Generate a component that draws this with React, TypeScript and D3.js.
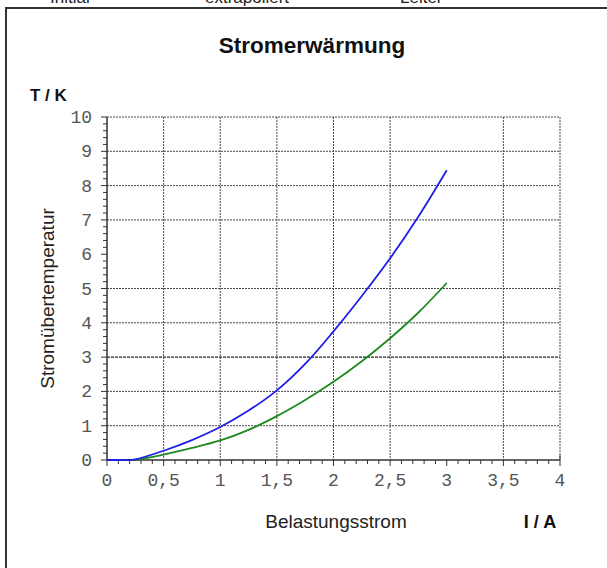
import React from "react";
import * as d3 from "d3";

const currents = [0, 0.1, 0.2, 0.25, 0.5, 0.75, 1.0, 1.25, 1.5, 1.75, 2.0, 2.25, 2.5, 2.75, 3.0];
const blueTemps = [0, 0, 0, 0.02, 0.27, 0.58, 0.96, 1.44, 2.03, 2.8, 3.75, 4.78, 5.88, 7.1, 8.45];
const greenTemps = [0, 0, 0, 0.01, 0.16, 0.35, 0.57, 0.88, 1.28, 1.75, 2.28, 2.88, 3.55, 4.3, 5.16];

const xTicks = [0, 0.5, 1, 1.5, 2, 2.5, 3, 3.5, 4];
const yTicks = [0, 1, 2, 3, 4, 5, 6, 7, 8, 9, 10];
const xGrid = [0.5, 1, 1.5, 2, 2.5, 3.5];
const yGrid = [1, 2, 4, 5, 7, 8, 9];
const ySolidGrid = [3];

const title = "Stromerwärmung";
const yUnit = "T / K";
const xUnit = "I / A";
const yLabel = "Stromübertemperatur";
const xLabel = "Belastungsstrom";
const topLabels = ["Initial", "extrapoliert", "Leiter"];

const W = 607;
const H = 568;
const left = 107, right = 560, top = 117, bottom = 460;

const locale = d3.formatLocale({ decimal: ",", thousands: ".", grouping: [3], currency: ["", "€"] });
const fmt = (v: number) => locale.format("~g")(v);

export default function App() {
  const x = d3.scaleLinear().domain([0, 4]).range([left, right]);
  const y = d3.scaleLinear().domain([0, 10]).range([bottom, top]);
  const line = d3
    .line<[number, number]>()
    .x((d) => x(d[0]))
    .y((d) => y(d[1]))
    .curve(d3.curveCatmullRom.alpha(0.5));
  const blue = currents.map((c, i) => [c, blueTemps[i]] as [number, number]);
  const green = currents.map((c, i) => [c, greenTemps[i]] as [number, number]);
  const xMinor = d3.range(0, 4.0001, 0.1);
  const yMinor = d3.range(0, 10.0001, 0.2);
  const gridColor = "#4a4a4a";
  const dash = "2,1";
  const topX = [50, 205, 400];

  return (
    <svg width={W} height={H} style={{ position: "absolute", left: 0, top: 0, background: "#fff" }}>
      <rect x={0} y={0} width={W} height={H} fill="#fff" />
      {topLabels.map((t, i) => (
        <text key={t} x={topX[i]} y={3} fontFamily="Liberation Sans, Arial, sans-serif" fontSize={17} fill="#222">
          {t}
        </text>
      ))}
      <line x1={6} y1={8} x2={W} y2={8} stroke="#333" strokeWidth={2} />
      <line x1={6} y1={7} x2={6} y2={H} stroke="#333" strokeWidth={2} />

      <text x={312} y={53} textAnchor="middle" fontFamily="Liberation Sans, Arial, sans-serif" fontWeight="bold" fontSize={22.5} fill="#111">
        {title}
      </text>
      <text x={30} y={101} fontFamily="Liberation Sans, Arial, sans-serif" fontWeight="bold" fontSize={17} fill="#111">
        {yUnit}
      </text>

      {/* grid */}
      {xGrid.map((v) => (
        <line key={"xg" + v} x1={x(v)} x2={x(v)} y1={y(10)} y2={y(0)} stroke={gridColor} strokeDasharray={dash} strokeWidth={1} />
      ))}
      {yGrid.map((v) => (
        <line key={"yg" + v} x1={x(0)} x2={x(4)} y1={y(v)} y2={y(v)} stroke={gridColor} strokeDasharray={dash} strokeWidth={1} />
      ))}
      {ySolidGrid.map((v) => (
        <line key={"ys" + v} x1={x(0)} x2={x(4)} y1={y(v)} y2={y(v)} stroke="#222" strokeDasharray="3,1" strokeWidth={1.3} />
      ))}
      <line x1={x(0)} x2={x(4)} y1={y(10)} y2={y(10)} stroke={gridColor} strokeDasharray={dash} strokeWidth={1} />
      <line x1={x(4)} x2={x(4)} y1={y(10)} y2={y(0)} stroke={gridColor} strokeDasharray={dash} strokeWidth={1} />

      {/* axes */}
      <line x1={x(0)} x2={x(4)} y1={y(0)} y2={y(0)} stroke="#333" strokeWidth={1.5} />
      <line x1={x(0)} x2={x(0)} y1={y(10)} y2={y(0)} stroke="#333" strokeWidth={1.5} />
      {xMinor.map((v, i) => (
        <line key={"xm" + i} x1={x(v)} x2={x(v)} y1={y(0)} y2={y(0) + (i % 5 === 0 ? 6 : 4)} stroke="#333" strokeWidth={1} />
      ))}
      <line x1={x(4)} x2={x(4)} y1={y(0) - 5} y2={y(0)} stroke="#333" strokeWidth={1} />
      {yMinor.map((v, i) => (
        <line key={"ym" + i} x1={x(0) - (i % 5 === 0 ? 6 : 4)} x2={x(0)} y1={y(v)} y2={y(v)} stroke="#333" strokeWidth={1} />
      ))}

      {xTicks.map((v) => (
        <text key={"xt" + v} x={x(v)} y={486} textAnchor="middle" fontFamily="Liberation Mono, Courier New, monospace" fontSize={18} fill="#555">
          {fmt(v)}
        </text>
      ))}
      {yTicks.map((v) => (
        <text key={"yt" + v} x={92} y={y(v) + 6} textAnchor="end" fontFamily="Liberation Mono, Courier New, monospace" fontSize={18} fill="#555">
          {fmt(v)}
        </text>
      ))}

      <path d={line(green) || ""} fill="none" stroke="#1f8a1f" strokeWidth={1.8} />
      <path d={line(blue) || ""} fill="none" stroke="#1e1ee6" strokeWidth={1.8} />

      <text
        transform={`translate(54,${(top + bottom) / 2 + 10}) rotate(-90)`}
        textAnchor="middle"
        fontFamily="Liberation Sans, Arial, sans-serif"
        fontSize={19}
        fill="#222"
      >
        {yLabel}
      </text>
      <text x={336} y={528} textAnchor="middle" fontFamily="Liberation Sans, Arial, sans-serif" fontSize={19} fill="#222">
        {xLabel}
      </text>
      <text x={540} y={528} textAnchor="middle" fontFamily="Liberation Sans, Arial, sans-serif" fontWeight="bold" fontSize={18} fill="#111">
        {xUnit}
      </text>
    </svg>
  );
}
